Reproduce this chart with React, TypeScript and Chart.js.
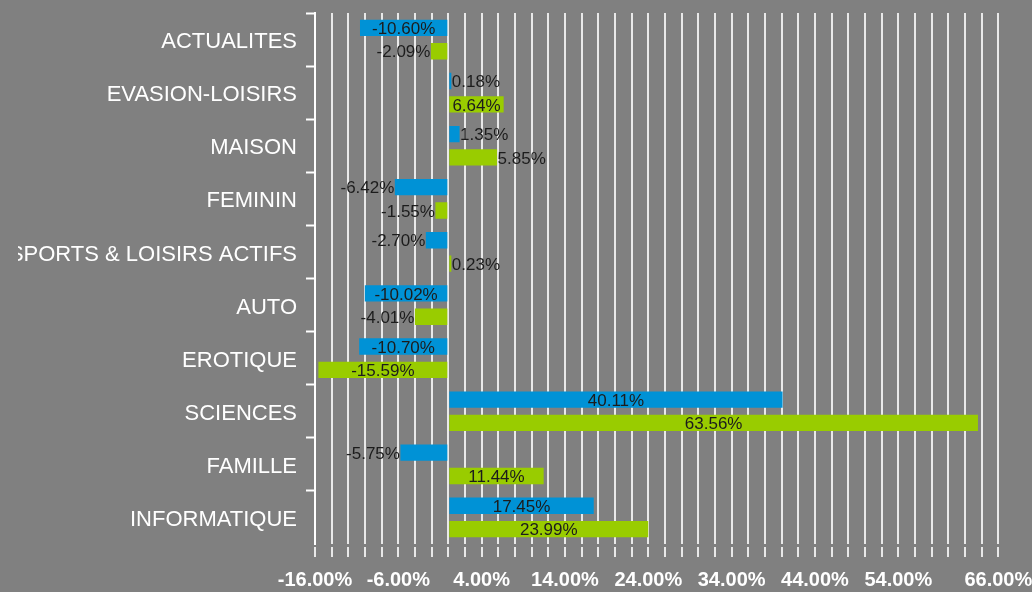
import React, { useEffect, useRef } from "react";
import { Chart, registerables } from "chart.js";

Chart.register(...registerables);

const CATEGORIES = [
  "ACTUALITES",
  "EVASION-LOISIRS",
  "MAISON",
  "FEMININ",
  "SPORTS & LOISIRS ACTIFS",
  "AUTO",
  "EROTIQUE",
  "SCIENCES",
  "FAMILLE",
  "INFORMATIQUE",
];
const SERIES_BLUE = [-10.6, 0.18, 1.35, -6.42, -2.7, -10.02, -10.7, 40.11, -5.75, 17.45];
const SERIES_GREEN = [-2.09, 6.64, 5.85, -1.55, 0.23, -4.01, -15.59, 63.56, 11.44, 23.99];
const X_TICK_LABELS = [-16, -6, 4, 14, 24, 34, 44, 54, 66];
const X_MIN = -16;
const X_MAX = 66;
const X_GRID_STEP = 2;

const FONT = "'Liberation Sans', Arial, sans-serif";

const fmt = (v: number) => v.toFixed(2) + "%";

const barLabels = {
  id: "barLabels",
  afterDatasetsDraw(chart: any) {
    const ctx = chart.ctx;
    ctx.save();
    ctx.font = `17px ${FONT}`;
    ctx.fillStyle = "#1c1c1c";
    ctx.textBaseline = "middle";
    chart.data.datasets.forEach((ds: any, di: number) => {
      const meta = chart.getDatasetMeta(di);
      meta.data.forEach((el: any, i: number) => {
        const v = ds.data[i];
        const { x, y, base } = el.getProps(["x", "y", "base"], true);
        const text = fmt(v);
        const w = ctx.measureText(text).width;
        const bw = Math.abs(x - base);
        if (w + 4 <= bw) {
          ctx.textAlign = "center";
          ctx.fillText(text, (x + base) / 2, y + 1.5);
        } else if (v >= 0) {
          ctx.textAlign = "left";
          ctx.fillText(text, x + 0.5, y + 1.5);
        } else {
          ctx.textAlign = "right";
          ctx.fillText(text, x - 0.5, y + 1.5);
        }
      });
    });
    ctx.restore();
  },
};

export default function App() {
  const ref = useRef<HTMLCanvasElement | null>(null);
  useEffect(() => {
    if (!ref.current) return;
    const chart = new Chart(ref.current, {
      type: "bar",
      data: {
        labels: CATEGORIES,
        datasets: [
          {
            label: "Série 1",
            data: SERIES_BLUE,
            backgroundColor: "#0092D6",
            borderWidth: 0,
            minBarLength: 3,
            categoryPercentage: 0.88,
            barPercentage: 0.7,
          },
          {
            label: "Série 2",
            data: SERIES_GREEN,
            backgroundColor: "#99CC00",
            borderWidth: 0,
            minBarLength: 3,
            categoryPercentage: 0.88,
            barPercentage: 0.7,
          },
        ],
      },
      options: {
        indexAxis: "y",
        animation: false,
        responsive: false,
        devicePixelRatio: 1,
        layout: { padding: { top: 13, right: 33.7, left: 0, bottom: 0 } },
        plugins: {
          legend: { display: false },
          tooltip: { enabled: false },
        },
        scales: {
          x: {
            type: "linear",
            min: X_MIN,
            max: X_MAX,
            border: { display: false },
            grid: {
              color: "#e9e9e9",
              lineWidth: 2,
              drawTicks: true,
              tickLength: 13,
              tickColor: "#e9e9e9",
              tickWidth: 2,
              tickBorderDash: [0, 3, 10, 10],
            },
            ticks: {
              stepSize: X_GRID_STEP,
              autoSkip: false,
              maxRotation: 0,
              minRotation: 0,
              padding: 11,
              color: "#ffffff",
              font: { family: FONT, size: 20, weight: "bold" },
              callback: (v: any) => (X_TICK_LABELS.includes(Number(v)) ? Number(v).toFixed(2) + "%" : ""),
            },
            afterFit: (s: any) => {
              s.height = 48;
              s.paddingLeft = 0;
              s.paddingRight = 0;
            },
          },
          y: {
            type: "category",
            border: { display: true, color: "#ffffff", width: 2 },
            grid: {
              offset: true,
              drawOnChartArea: false,
              drawTicks: true,
              tickLength: 9,
              tickWidth: 2,
              tickColor: (c: any) => (c.type === "tick" ? "#ffffff" : "rgba(0,0,0,0)"),
            },
            ticks: {
              padding: 9,
              labelOffset: 2.5,
              color: "#ffffff",
              font: { family: FONT, size: 22 },
            },
            afterFit: (s: any) => {
              s.width = 297;
              s.paddingTop = 0;
              s.paddingBottom = 0;
            },
          },
        },
      },
      plugins: [barLabels],
    } as any);
    return () => chart.destroy();
  }, []);
  return (
    <div style={{ position: "fixed", inset: 0, background: "#808080", overflow: "hidden" }}>
      <div style={{ position: "absolute", left: 18, top: 0, width: 1014, height: 592 }}>
        <canvas ref={ref} width={1014} height={592} style={{ display: "block", width: 1014, height: 592 }} />
      </div>
    </div>
  );
}
